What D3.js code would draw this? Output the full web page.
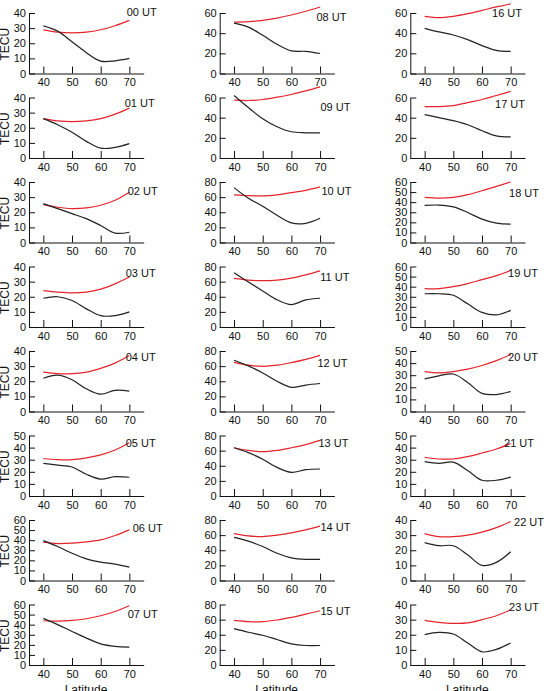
<!DOCTYPE html>
<html lang="en">

<head>
    <meta charset="utf-8">
    <title>TECU vs latitude, 00-23 UT</title>
    <script type="text/javascript" src="https://d3js.org/d3.v7.min.js"></script>
    <style type="text/css">
        body { margin: 0; background: #fff; }
        text { font-family: "Liberation Sans", Arial, sans-serif; }
    </style>
</head>

<body>
    <script type="text/javascript">
        //Data: one row per UT hour, values at each latitude
        const latitudes = [40, 45, 50, 55, 60, 65, 70];
        const hourLabels = ['00 UT', '01 UT', '02 UT', '03 UT', '04 UT', '05 UT', '06 UT', '07 UT',
            '08 UT', '09 UT', '10 UT', '11 UT', '12 UT', '13 UT', '14 UT', '15 UT',
            '16 UT', '17 UT', '18 UT', '19 UT', '20 UT', '21 UT', '22 UT', '23 UT'];
        const yMax = [40, 40, 40, 40, 40, 50, 60, 60,
            60, 60, 80, 80, 80, 80, 80, 80,
            60, 60, 60, 60, 50, 50, 40, 40];
        const yStep = [10, 10, 10, 10, 10, 10, 10, 10,
            20, 20, 20, 20, 20, 20, 20, 20,
            20, 20, 10, 10, 10, 10, 10, 10];

        //black curve
        const blackTec = [
            [31.5, 28, 21, 13.8, 8.2, 8.4, 10],
            [26, 22, 17, 11, 6.5, 7, 9.5],
            [25.7, 22.4, 19.1, 15.8, 11.2, 6.2, 6.8],
            [19, 20, 17.5, 12, 7.5, 7.5, 10],
            [22, 24, 21, 15, 11.5, 14, 13.5],
            [27, 25.5, 24, 18, 14, 16, 15.5],
            [39.6, 33.7, 27, 21.5, 18.2, 16.2, 13.2],
            [46.2, 40, 33.3, 26.7, 21, 18.5, 17.8],
            [50, 46, 38, 29, 22.4, 22, 19.8],
            [62, 50, 39, 31, 26, 25, 25],
            [72.6, 58.5, 48, 36, 26, 25.4, 32],
            [71.7, 59.5, 47.7, 36, 29.7, 35.8, 38],
            [67.8, 60.3, 51, 40, 32, 35, 37],
            [63.8, 57.4, 48.7, 37.8, 31.3, 34.8, 35.7],
            [57, 52, 45, 36, 30, 28, 28],
            [48, 43.3, 39.3, 33.7, 28, 25.8, 25.8],
            [44.8, 41.2, 38.2, 33.6, 27.7, 23, 22],
            [43, 40, 37, 33, 27, 22, 21],
            [36.8, 37.1, 35.4, 29.8, 23.2, 19.2, 18.2],
            [33, 33, 31.5, 23, 14.5, 12, 16.5],
            [27, 29.5, 31, 24, 15, 14, 16.5],
            [28.4, 27, 28, 21, 13, 13, 15.6],
            [25, 23, 23, 17, 10, 12, 19],
            [20.1, 21.6, 20.5, 14.6, 8.7, 10.3, 14.6]
        ];

        //red curve
        const redTec = [
            [28.9, 27.3, 26.9, 27.3, 28.9, 31.6, 35.1],
            [26, 24.5, 24, 24.5, 26, 29, 33],
            [25, 23.3, 22.4, 22.9, 24.6, 27.9, 33.2],
            [24, 23, 22.5, 23, 25, 28.5, 33],
            [26, 25, 25, 26, 28.5, 32, 37],
            [31, 30, 30, 31.5, 34, 38, 44],
            [38, 36.6, 37, 38.3, 40.3, 44.6, 50.2],
            [43.9, 43.6, 44.2, 45.9, 48.8, 53.1, 58.7],
            [51, 51.4, 52.7, 55, 58, 61.7, 66],
            [57.4, 57, 58, 60.3, 63, 66.5, 70.5],
            [63, 62, 61.7, 63, 66, 69, 73.5],
            [64.3, 62, 61.2, 62, 64.7, 69, 74.3],
            [65, 61.2, 59.8, 61.2, 64.7, 69, 74.3],
            [63.8, 60.3, 58.6, 60.3, 63.8, 68, 73.5],
            [62, 59, 58, 60, 63, 67, 72],
            [59, 57.3, 57.3, 59.5, 63, 67.3, 71.7],
            [56.7, 55.4, 56.7, 59.3, 62.6, 66, 69],
            [51, 51, 52, 55, 58, 62, 66],
            [44.7, 44, 44.7, 47.4, 51.3, 55.6, 60],
            [38, 38, 40, 43, 47, 51, 56],
            [33, 32, 33, 35, 38, 42, 47],
            [32, 30.6, 30.6, 32.5, 35.5, 38.8, 43.4],
            [31, 29, 29, 30, 32, 35, 39],
            [29.5, 28.2, 27.5, 27.8, 30, 32.6, 36.5]
        ];

        //Layout
        const canvasWidth = 549;
        const canvasHeight = 691;
        const colAxisX = [29, 219.7, 410.3];
        const rowTop0 = 13;
        const rowStep = 84.5;
        const plotH = 60.5;
        const plotW = 114.7;
        //nudges for the UT labels [dx from axis end, dy from panel top]
        const labelNudge = [[13, 3], [11, 9.5], [14, 13], [12, 10], [12, 10], [12, 11.5], [19, 12], [14, 13.5],
            [12, 8], [16, 13.5], [17, 13], [15, 14.5], [13, 16], [14, 11], [16, 11], [16, 10.5],
            [-3, 4], [0, 10.5], [14, 15], [13, 10.5], [13, 10], [9, 11], [19, 6], [14, 6.5]];

        const svg = d3.select('body')
            .append('svg')
            .attr('width', canvasWidth)
            .attr('height', canvasHeight)

        hourLabels.forEach((label, i) => {
            const col = Math.floor(i / 8);
            const row = i % 8;
            const x0 = colAxisX[col];
            const top = rowTop0 + rowStep * row;

            const xScale = d3.scaleLinear().domain([35, 75]).range([x0, x0 + plotW]);
            const yScale = d3.scaleLinear().domain([0, yMax[i]]).range([top + plotH, top]);

            const g = svg.append('g').attr('class', 'panel');

            const xAxis = d3.axisBottom(xScale)
                .tickValues([40, 50, 60, 70])
                .tickSizeInner(-7)
                .tickSizeOuter(0)
                .tickPadding(5);
            const yAxis = d3.axisLeft(yScale)
                .tickValues(d3.range(0, yMax[i] + 1, yStep[i]))
                .tickSizeInner(-6)
                .tickSizeOuter(0)
                .tickPadding(3);

            g.append('g')
                .attr('transform', 'translate(0,' + (top + plotH) + ')')
                .call(xAxis)
                .call(a => a.selectAll('text').attr('font-size', 11).attr('font-family', '"Liberation Sans", Arial, sans-serif').attr('fill', '#111'));
            g.append('g')
                .attr('transform', 'translate(' + x0 + ',0)')
                .call(yAxis)
                .call(a => a.selectAll('text').attr('font-size', 11).attr('font-family', '"Liberation Sans", Arial, sans-serif').attr('fill', '#111'));
            g.selectAll('.domain, .tick line').attr('stroke', '#111').attr('stroke-width', 1);

            //smooth curve through the read-off points
            const line = d3.line()
                .x((d, k) => xScale(latitudes[k]))
                .y(d => yScale(d))
                .curve(d3.curveCatmullRom.alpha(0.5));

            g.append('path')
                .datum(redTec[i])
                .attr('d', line)
                .attr('fill', 'none')
                .attr('stroke', '#e4242c')
                .attr('stroke-width', 1.2);

            g.append('path')
                .datum(blackTec[i])
                .attr('d', line)
                .attr('fill', 'none')
                .attr('stroke', '#222')
                .attr('stroke-width', 1.2);

            g.append('text')
                .attr('x', x0 + plotW + labelNudge[i][0])
                .attr('y', top + labelNudge[i][1])
                .attr('text-anchor', 'end')
                .attr('font-size', 11)
                .attr('fill', '#111')
                .text(label);

            //TECU label on the first column only
            if (col === 0) {
                svg.append('text')
                    .attr('transform', 'translate(9,' + (top + plotH / 2 + 1) + ') rotate(-90)')
                    .attr('text-anchor', 'middle')
                    .attr('font-size', 12)
                    .attr('fill', '#111')
                    .text('TECU');
            }
        });

        //Latitude under each column
        colAxisX.forEach((x0) => {
            svg.append('text')
                .attr('x', x0 + 57)
                .attr('y', 694)
                .attr('text-anchor', 'middle')
                .attr('font-size', 12)
                .attr('fill', '#111')
                .text('Latitude');
        });
    </script>
</body>

</html>
